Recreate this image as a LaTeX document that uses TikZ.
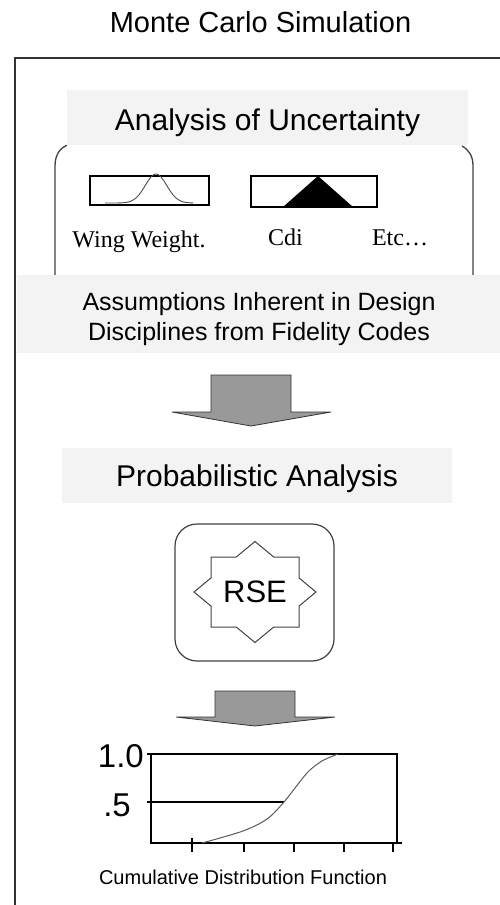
\documentclass[tikz,border=0pt]{standalone}
\usepackage{fontspec}
\setmainfont{Liberation Sans}
\newfontfamily\seriffont{Liberation Serif}
\definecolor{bandgray}{RGB}{243,243,243}
\definecolor{arrowgray}{RGB}{153,153,153}
\begin{document}
\begin{tikzpicture}[x=1pt,y=-1pt,
    band/.style={fill=bandgray, inner sep=0pt, text depth=0pt, align=center},
    distbox/.style={draw, line width=1.1pt, inner sep=0pt},
    blockarrow/.style={fill=arrowgray, draw=black!80, line width=0.8pt},
    cdfline/.style={draw=black!65, line width=1pt}]
  \useasboundingbox (0,0) rectangle (500,905);
  \node[anchor=base] (title) at (260.5,32) {\fontsize{29}{34}\selectfont Monte Carlo Simulation};
  % outer frame, runs off the page
  \draw[line width=1.5pt, black!80] (502,58) -- (15,58) -- (15,907);

  \node[band, minimum width=401pt, minimum height=55pt, text height=25pt] (unc) at (267.5,117.5)
    {\fontsize{30}{34}\selectfont Analysis of Uncertainty};
  \draw[black!75, line width=1.3pt] (unc.south west) .. controls (60,148) and (55,155) .. (55,166) -- (55,278);
  \draw[black!75, line width=1.3pt] (462,146) .. controls (469,150) and (473,156) .. (473,166) -- (473,278);

  \node[distbox, minimum width=119pt, minimum height=29pt] (wingbox) at (149.5,190.5) {};
  \draw[black!70, line width=0.9pt] plot[domain=-51:37, samples=70, smooth]
    ({156+\x},{203-29*exp(-(\x*\x)/(2*115))});
  \node[distbox, minimum width=126pt, minimum height=31pt] (cdibox) at (314,191.5) {};
  \fill (283,207) -- (318,176) -- (353,207) -- cycle;
  \node[anchor=base, inner sep=0pt] (wing) at (139,247) {\seriffont\fontsize{24}{27}\selectfont Wing Weight.};
  \node[anchor=base, inner sep=0pt] (cdi) at (285.5,245) {\seriffont\fontsize{24}{27}\selectfont Cdi};
  \node[anchor=base, inner sep=0pt] (etc) at (400,245) {\seriffont\fontsize{24}{27}\selectfont Etc\ldots};

  \node[band, minimum width=484pt, minimum height=78pt, text height=52pt, font={\fontsize{25}{30}\selectfont}] (assum) at (259,314)
    {Assumptions Inherent in Design\\Disciplines from Fidelity Codes};

  \draw[blockarrow] (211,375) -- (291,375) -- (291,412) -- (331,412) -- (251,426) -- (172,412) -- (211,412) -- cycle;

  \node[band, minimum width=390pt, minimum height=55pt, text height=21pt] (prob) at (257,475.5)
    {\fontsize{30}{34}\selectfont Probabilistic Analysis};

  \node[draw=black!75, line width=1.2pt, rounded corners=22pt, minimum width=159pt, minimum height=137pt] (rsebox) at (254.5,592.5) {};
  \node (rse) at (255,592) {\fontsize{31}{36}\selectfont RSE};
  \begin{scope}[shift={(rse.center)}]
    \draw[black!75, line width=1pt] (0,-50.5) -- (18.7,-35) -- (44,-35) -- (44,-14.1) -- (61,0) -- (44,14.1)
      -- (44,35) -- (18.7,35) -- (0,50.5) -- (-18.7,35) -- (-44,35) -- (-44,14.1) -- (-61,0)
      -- (-44,-14.1) -- (-44,-35) -- (-18.7,-35) -- cycle;
  \end{scope}

  \draw[blockarrow] (215,691) -- (295,691) -- (295,717) -- (335,717) -- (255,726) -- (176,717) -- (215,717) -- cycle;

  % cumulative distribution plot
  \draw[line width=1.1pt] (151,754) rectangle (397,843);
  \draw[line width=1.1pt] (397,843) -- (402,843);
  \foreach \t in {754,802}
    \draw[line width=1.1pt] (147,\t) -- (151,\t);
  \draw[line width=1.1pt] (151,802) -- (284,802);
  \draw[line width=1.1pt] (192,838) -- (192,852);
  \foreach \t in {244,294,344,393}
    \draw[line width=1.1pt] (\t,843) -- (\t,852);
  \draw[cdfline] plot[smooth] coordinates {(202,843) (243,831) (267,819) (284,802) (307,773) (322,761) (338,754)};
  \node[anchor=east, inner sep=0pt] (one) at (144,756.5) {\fontsize{33}{38}\selectfont 1.0};
  \node[anchor=east, inner sep=0pt] (half) at (131,805) {\fontsize{33}{38}\selectfont .5};
  \node[anchor=base, inner sep=0pt] (cdf) at (243,884) {\fontsize{20}{24}\selectfont Cumulative Distribution Function};
\end{tikzpicture}
\end{document}
